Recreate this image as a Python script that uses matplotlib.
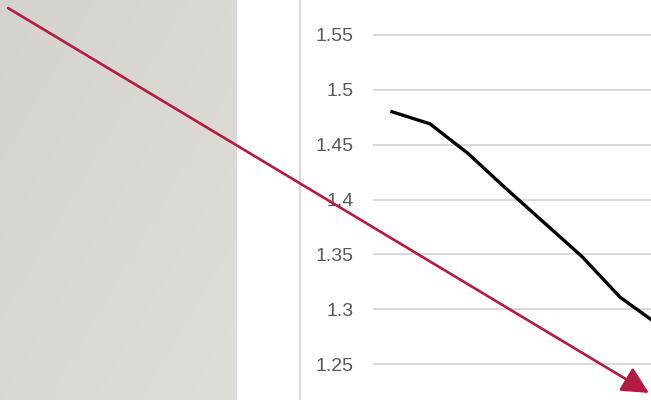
import numpy as np
import matplotlib
matplotlib.use("Agg")
from matplotlib import pyplot as plt
from matplotlib.patches import FancyArrowPatch
from matplotlib.lines import Line2D

# series values (one point per period)
values = [1.480, 1.469, 1.442, 1.410, 1.379, 1.348, 1.311, 1.286]
y_ticks = [1.25, 1.3, 1.35, 1.4, 1.45, 1.5, 1.55]
y_labels = ["1.25", "1.3", "1.35", "1.4", "1.45", "1.5", "1.55"]

W, H = 651, 400
fig = plt.figure(figsize=(W / 100, H / 100), dpi=100)
fig.patch.set_facecolor("white")

# grey side panel with a soft gradient
side = fig.add_axes([0, 0, 237 / W, 1])
gx, gy = np.meshgrid(np.linspace(0, 1, 60), np.linspace(0, 1, 160))
g = 0.5 * gx + 0.5 * gy
top = np.array([214, 211, 207]) / 255
bot = np.array([224, 221, 217]) / 255
side.imshow(top + g[..., None] * (bot - top), aspect="auto", extent=[0, 1, 0, 1])
side.axis("off")

# thin border of the chart box
fig.add_artist(Line2D([300 / W, 300 / W], [0, 1], color="#d9d9d9", lw=1.6,
                      transform=fig.transFigure))

# line chart
ax = fig.add_axes([373 / W, 0, (W - 373) / W, 1])
ax.set_facecolor("none")
x = np.arange(len(values))
ax.plot(x, values, color="black", lw=2.4, solid_joinstyle="round", zorder=3)
ax.set_xlim(-0.5, -0.5 + (W - 373) / 38)
ax.set_ylim(1.2172, 1.5819)
ax.set_yticks(y_ticks)
ax.set_yticklabels(y_labels)
ax.set_xticks([])
ax.grid(axis="y", color="#dadada", lw=1.5)
ax.set_axisbelow(True)
for s in ax.spines.values():
    s.set_visible(False)
ax.tick_params(axis="y", length=0, pad=14, labelsize=14, labelcolor="#595959")
for lab in ax.get_yticklabels():
    lab.set_fontfamily("Liberation Sans")

# red trend arrow across the slide
arrow = FancyArrowPatch((8 / W, 1 - 8 / H), (649 / W, 1 - 393 / H),
                        transform=fig.transFigure,
                        arrowstyle="-|>,head_length=1.1,head_width=0.55",
                        mutation_scale=15, color="#b41a44", lw=1.9,
                        shrinkA=0, shrinkB=0, zorder=10)
fig.add_artist(arrow)

fig.savefig("out.png", dpi=100)
